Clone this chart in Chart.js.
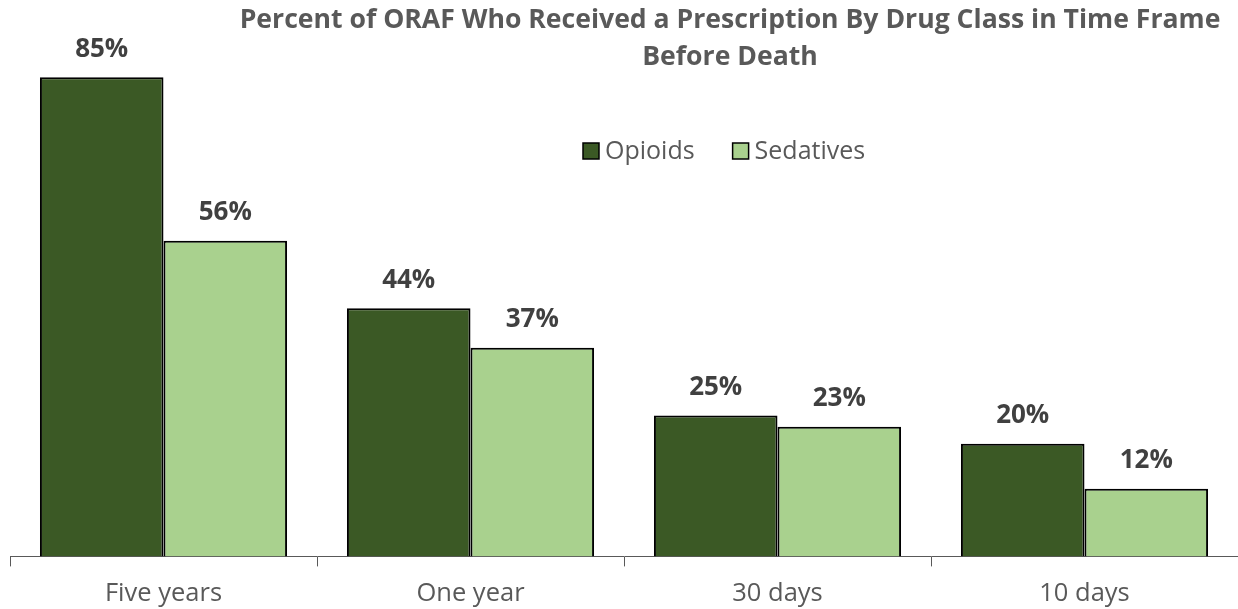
<!DOCTYPE html>
<html>
<head>
<meta charset="utf-8">
<script src="https://cdn.jsdelivr.net/npm/chart.js@4.4.0/dist/chart.umd.min.js"></script>
<style>
  html, body { margin: 0; padding: 0; background: #fff; }
  #wrap { width: 1238px; height: 609px; }
</style>
</head>
<body>
<div id="wrap"><canvas id="rxChart"></canvas></div>
<script>
  // Data
  const timeFrames = ['Five years', 'One year', '30 days', '10 days'];
  const opioids = [85, 44, 25, 20];
  const sedatives = [56, 37, 23, 12];
  const titleLines = ['Percent of ORAF Who Received a Prescription By Drug Class in Time Frame', 'Before Death'];

  const DARK = '#3b5925';
  const LIGHT = '#a9d18e';
  const TEXT = '#595959';
  const FONT = "'Open Sans', 'Liberation Sans', sans-serif";

  // Value labels above each bar
  const valueLabels = {
    id: 'valueLabels',
    afterDatasetsDraw(chart) {
      const ctx = chart.ctx;
      ctx.save();
      ctx.font = "bold 26px " + FONT;
      ctx.fillStyle = '#404040';
      ctx.textAlign = 'center';
      ctx.textBaseline = 'middle';
      chart.data.datasets.forEach((ds, i) => {
        chart.getDatasetMeta(i).data.forEach((bar, j) => {
          ctx.fillText(ds.data[j] + '%', bar.x, bar.y - 28);
        });
      });
      ctx.restore();
    }
  };

  // Title and legend drawn over the plot
  const header = {
    id: 'header',
    afterDraw(chart) {
      const ctx = chart.ctx;
      ctx.save();
      ctx.fillStyle = TEXT;
      ctx.textAlign = 'center';
      ctx.textBaseline = 'middle';
      ctx.font = "bold 26.6px " + FONT;
      ctx.fillText(titleLines[0], 730, 20);
      ctx.fillText(titleLines[1], 730, 57);

      ctx.font = "25px " + FONT;
      ctx.textAlign = 'left';
      let x = 583;
      chart.data.datasets.forEach(ds => {
        ctx.fillStyle = ds.backgroundColor;
        ctx.fillRect(x, 143, 16, 16);
        ctx.strokeStyle = '#000';
        ctx.lineWidth = 1.5;
        ctx.strokeRect(x, 143, 16, 16);
        ctx.fillStyle = TEXT;
        ctx.fillText(ds.label, x + 22, 152);
        x += 22 + ctx.measureText(ds.label).width + 38;
      });
      ctx.restore();
    }
  };

  new Chart(document.getElementById('rxChart'), {
    type: 'bar',
    data: {
      labels: timeFrames,
      datasets: [
        { label: 'Opioids', data: opioids, backgroundColor: DARK, borderColor: '#000', borderWidth: 2 },
        { label: 'Sedatives', data: sedatives, backgroundColor: LIGHT, borderColor: '#000', borderWidth: 2 }
      ]
    },
    options: {
      responsive: true,
      maintainAspectRatio: false,
      animation: false,
      layout: { padding: { top: 49, left: 10, right: 0, bottom: -12 } },
      datasets: { bar: { categoryPercentage: 0.805, barPercentage: 1 } },
      plugins: { legend: { display: false }, title: { display: false }, tooltip: { enabled: false } },
      scales: {
        x: {
          offset: true,
          grid: { drawOnChartArea: false, drawTicks: true, tickLength: 10, color: '#595959', offset: true },
          border: { display: true, color: '#595959', width: 1 },
          ticks: { color: TEXT, font: { size: 25.5, family: FONT }, padding: 12 }
        },
        y: { display: false, min: 0, max: 90 }
      }
    },
    plugins: [valueLabels, header]
  });
</script>
</body>
</html>
